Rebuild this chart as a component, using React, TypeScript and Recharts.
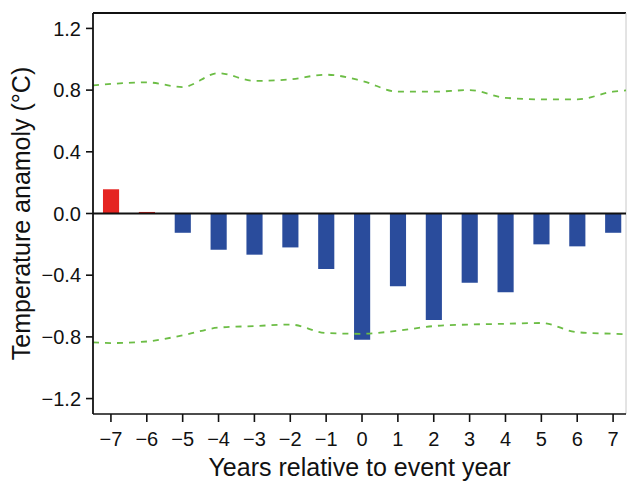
import React from "react";
import { ComposedChart, Bar, Line, XAxis, YAxis, ReferenceLine, Cell, Label } from "recharts";

const years = [-7, -6, -5, -4, -3, -2, -1, 0, 1, 2, 3, 4, 5, 6, 7];
const anomaly = [0.157, 0.01, -0.125, -0.235, -0.267, -0.22, -0.36, -0.818, -0.472, -0.69, -0.449, -0.511, -0.2, -0.213, -0.125];
const upperBound = [0.84, 0.85, 0.82, 0.91, 0.86, 0.87, 0.9, 0.86, 0.79, 0.79, 0.8, 0.75, 0.74, 0.74, 0.79];
const lowerBound = [-0.84, -0.83, -0.79, -0.74, -0.73, -0.72, -0.775, -0.78, -0.76, -0.73, -0.72, -0.715, -0.71, -0.77, -0.78];
// bound values read at the left and right plot edges
const edgeYears = [-7.5, 7.5];
const edgeUpper = [0.83, 0.8];
const edgeLower = [-0.835, -0.785];
const yTicks = [-1.2, -0.8, -0.4, 0, 0.4, 0.8, 1.2];

const data = [
  { year: edgeYears[0], upper: edgeUpper[0], lower: edgeLower[0] },
  ...years.map((y, i) => ({ year: y, value: anomaly[i], upper: upperBound[i], lower: lowerBound[i] })),
  { year: edgeYears[1], upper: edgeUpper[1], lower: edgeLower[1] },
];

const FONT = "'Liberation Sans', Arial, Helvetica, sans-serif";
const fmtX = (v: number) => (v < 0 ? `\u2212${-v}` : `${v}`);
const fmtY = (v: number) => (v < 0 ? `\u2212${(-v).toFixed(1)}` : v.toFixed(1));
const X_MAX = 7.36;

export default function App() {
  return (
    <div style={{ width: 619, height: 473, padding: "8px 0 0 8px", background: "#fff" }}>
      <style>{"body{margin:0;}"}</style>
      <ComposedChart
        width={619}
        height={473}
        data={data}
        margin={{ top: 5, right: 1, left: 0, bottom: 0 }}
        style={{ fontFamily: FONT }}
      >
        <XAxis
          dataKey="year"
          type="number"
          domain={[-7.5, X_MAX]}
          ticks={years}
          tickFormatter={fmtX}
          allowDataOverflow
          height={67}
          tickSize={8}
          tickMargin={10}
          axisLine={{ stroke: "#111", strokeWidth: 1.6 }}
          tickLine={{ stroke: "#111", strokeWidth: 1.6 }}
          tick={{ fill: "#111", fontSize: 20, fontFamily: FONT }}
        >
          <Label
            value="Years relative to event year"
            position="insideBottom"
            offset={5}
            style={{ fontSize: 25, fill: "#111", fontFamily: FONT }}
          />
        </XAxis>
        <YAxis
          type="number"
          domain={[-1.3, 1.3]}
          ticks={yTicks}
          tickFormatter={fmtY}
          allowDataOverflow
          width={85}
          tickSize={7}
          tickMargin={5}
          axisLine={{ stroke: "#111", strokeWidth: 1.8 }}
          tickLine={{ stroke: "#111", strokeWidth: 1.6 }}
          tick={{ fill: "#111", fontSize: 20, fontFamily: FONT }}
        >
          <Label
            value="Temperature anamoly (°C)"
            angle={-90}
            position="insideLeft"
            offset={13}
            style={{ fontSize: 25, fill: "#111", fontFamily: FONT, textAnchor: "middle" }}
          />
        </YAxis>
        <ReferenceLine y={1.3} stroke="#111" strokeWidth={1.8} />
        <ReferenceLine x={X_MAX} stroke="#c8c8c8" strokeWidth={1} />
        <Bar dataKey="value" barSize={20} isAnimationActive={false}>
          {data.map((d, i) => (
            <Cell key={i} fill={(d as any).value > 0 ? "#e52421" : "#2a4c9c"} />
          ))}
        </Bar>
        <ReferenceLine y={0} stroke="#111" strokeWidth={2} />
        <Line
          dataKey="upper"
          type="monotone"
          stroke="#6cbd45"
          strokeWidth={1.8}
          strokeDasharray="6 6"
          dot={false}
          isAnimationActive={false}
        />
        <Line
          dataKey="lower"
          type="monotone"
          stroke="#6cbd45"
          strokeWidth={1.8}
          strokeDasharray="6 6"
          dot={false}
          isAnimationActive={false}
        />
      </ComposedChart>
    </div>
  );
}
